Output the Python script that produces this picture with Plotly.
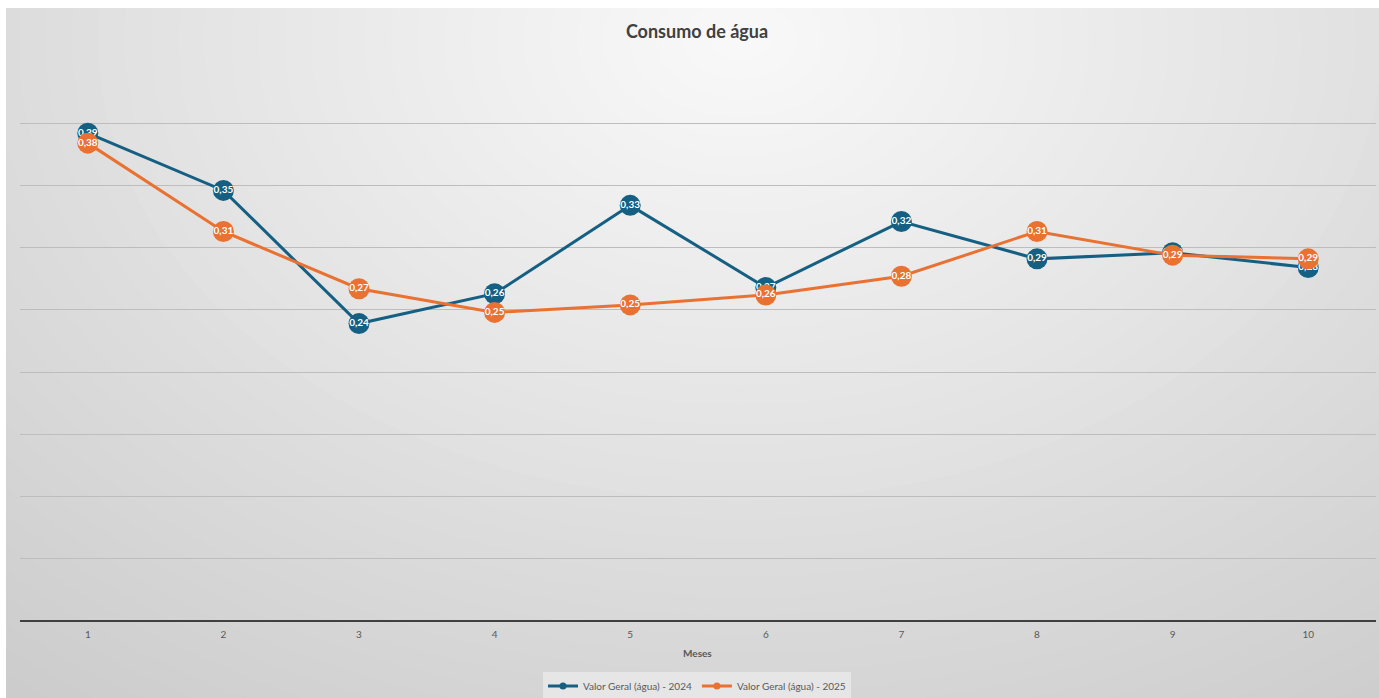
import plotly.graph_objects as go

meses = [1, 2, 3, 4, 5, 6, 7, 8, 9, 10]
valor_2024 = [0.392, 0.346, 0.239, 0.263, 0.334, 0.268, 0.321, 0.291, 0.296, 0.284]
valor_2025 = [0.384, 0.313, 0.267, 0.248, 0.254, 0.262, 0.277, 0.313, 0.294, 0.291]
nome_2024 = "Valor Geral (água) - 2024"
nome_2025 = "Valor Geral (água) - 2025"

BLUE = "#156082"
ORANGE = "#E97132"
FONT = "Lato"

W, H = 1379, 698
L, R, T, B = 20, 3, 61, 77


def fmt(v):
    return f"{v:.2f}".replace(".", ",")


def px2x(px):
    return (px - L) / (W - L - R)


def py2y(py):
    return (H - B - py) / (H - T - B)


fig = go.Figure()
for name, vals, col in [(nome_2024, valor_2024, BLUE), (nome_2025, valor_2025, ORANGE)]:
    fig.add_trace(go.Scatter(
        x=meses, y=vals, name=name, showlegend=False,
        mode="lines+markers+text",
        line=dict(color=col, width=3),
        marker=dict(color=col, size=21, line=dict(width=0)),
        text=[fmt(v) for v in vals],
        textposition="middle center",
        textfont=dict(family=FONT, size=10, color="white", weight="bold"),
        hoverinfo="skip",
    ))
for name, col in [(nome_2024, BLUE), (nome_2025, ORANGE)]:
    fig.add_trace(go.Scatter(
        x=[None], y=[None], name=name, mode="lines+markers",
        line=dict(color=col, width=3), marker=dict(color=col, size=7),
    ))

# background: radial gradient approximated by stepped solid ellipses
shapes = []
shapes.append(dict(type="rect", xref="paper", yref="paper", layer="below",
                   x0=px2x(-50), x1=px2x(W + 50), y0=py2y(H + 50), y1=py2y(-50),
                   fillcolor="rgb(198,198,198)", line=dict(width=0)))
cx, cy = 740, 40
N = 48
for i in range(N):
    t = i / (N - 1)
    rx = 1250 * (1 - t) + 30
    ry = 900 * (1 - t) + 20
    g = int(round(200 + t * (248 - 200)))
    shapes.append(dict(type="circle", xref="paper", yref="paper", layer="below",
                       x0=px2x(cx - rx), x1=px2x(cx + rx),
                       y0=py2y(cy + ry), y1=py2y(cy - ry),
                       fillcolor=f"rgb({g},{g},{g})", line=dict(width=0)))
# white strips top / left
shapes.append(dict(type="rect", xref="paper", yref="paper", layer="below",
                   x0=px2x(-50), x1=px2x(W + 50), y0=py2y(8), y1=py2y(-200),
                   fillcolor="white", line=dict(width=0)))
shapes.append(dict(type="rect", xref="paper", yref="paper", layer="below",
                   x0=px2x(-50), x1=px2x(6), y0=py2y(H + 50), y1=py2y(-200),
                   fillcolor="white", line=dict(width=0)))

fig.update_layout(
    width=W, height=H,
    margin=dict(l=L, r=R, t=T, b=B, autoexpand=False),
    paper_bgcolor="white",
    plot_bgcolor="rgba(0,0,0,0)",
    shapes=shapes,
    title=dict(text="<b>Consumo de água</b>", x=697 / W, xref="container", xanchor="center",
               y=1 - 32 / H, yref="container", yanchor="middle",
               font=dict(family=FONT, size=18, color="#404040")),
    xaxis=dict(range=[0.5, 10.5], tickvals=meses, ticktext=[str(m) for m in meses],
               showgrid=False, zeroline=False, showline=False, ticks="",
               ticklabelstandoff=6,
               tickfont=dict(family=FONT, size=10, color="#595959"),
               fixedrange=True),
    yaxis=dict(range=[0, 0.45], dtick=0.05, showticklabels=False,
               showgrid=True, gridcolor="#bdbdbd", gridwidth=1,
               zeroline=True, zerolinecolor="#404040", zerolinewidth=2,
               showline=False, fixedrange=True),
    showlegend=True,
    legend=dict(orientation="h", x=px2x(697), xanchor="center",
                y=py2y(686), yanchor="middle",
                bgcolor="#e6e6e6", font=dict(family=FONT, size=10, color="#595959"),
                itemwidth=30),
    annotations=[dict(text="<b>Meses</b>", xref="paper", yref="paper",
                      x=px2x(697), y=py2y(653), xanchor="center", yanchor="middle",
                      showarrow=False,
                      font=dict(family=FONT, size=10, color="#595959"))],
)

fig.write_html("out.html")
